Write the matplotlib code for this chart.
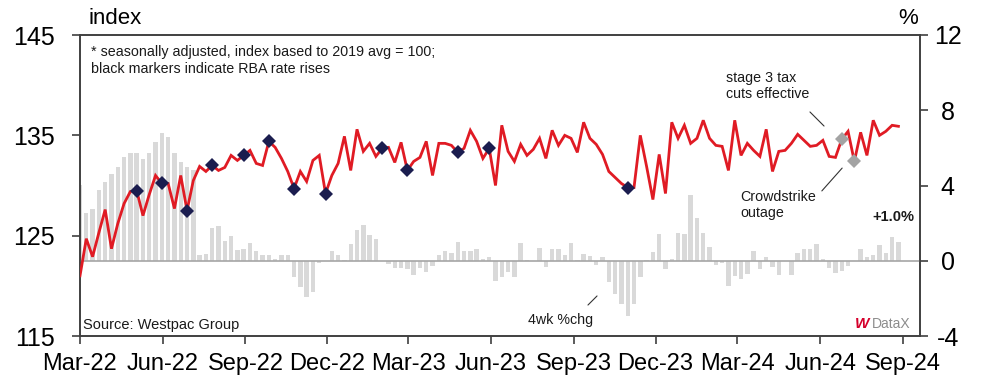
import numpy as np
import pandas as pd
import matplotlib
matplotlib.use('Agg')
import matplotlib.pyplot as plt

plt.rcParams['font.family'] = ['Liberation Sans', 'DejaVu Sans']

# ---------------- data ----------------
start_date = '2022-03-01'

index_values = [
    121.0, 124.7, 122.9, 125.3, 127.6, 123.7, 126.2, 128.2, 129.4, 129.5,
    127.0, 129.1, 131.0, 130.2, 130.2, 127.7, 131.0, 127.5, 130.5, 131.9,
    131.4, 132.0, 131.5, 131.8, 133.0, 132.5, 133.0, 133.5, 132.2, 132.0,
    134.4, 133.8, 132.7, 131.4, 129.7, 131.4, 130.4, 132.5, 133.0, 129.2,
    131.0, 132.2, 134.9, 131.5, 135.6, 133.4, 134.2, 132.9, 133.7, 133.8,
    132.3, 134.3, 131.5, 132.4, 132.8, 134.4, 131.0, 134.2, 134.2, 134.0,
    133.3, 133.7, 135.5, 134.4, 132.7, 133.7, 130.0, 136.0, 133.4, 132.4,
    134.1, 133.0, 133.6, 134.7, 132.7, 135.5, 134.0, 135.0, 134.7, 133.3,
    136.3, 134.7, 134.1, 133.1, 131.4, 130.8, 130.2, 129.8, 129.8, 135.0,
    131.9, 128.6, 133.1, 129.2, 136.3, 134.7, 136.0, 134.2, 134.7, 136.5,
    134.7, 134.0, 133.9, 131.5, 136.5, 133.0, 134.2, 133.5, 132.9, 135.6,
    131.4, 133.4, 133.5, 134.2, 135.1, 134.5, 133.9, 134.0, 134.5, 132.9,
    132.8, 134.6, 135.4, 132.4, 135.3, 133.0, 136.5, 135.0, 135.4, 136.0,
    135.9,
]

pct_chg_4wk = [
    4.02, 2.54, 2.77, 3.74, 4.18, 4.6, 4.98, 5.5, 5.73, 5.73,
    5.4, 5.73, 6.29, 6.78, 6.58, 5.73, 5.24, 5.0, 4.8,
    0.29, 0.35, 1.75, 1.86, 1.06, 1.3, 0.55, 0.65, 0.97, 0.51,
    0.32, 0.32, 0.07, 0.32, 0.31, -0.86, -1.41, -1.94, -1.66,
    -0.14, -0.02, 0.5, 0.28, 0.03, 0.89, 1.65, 1.88, 1.35, 1.14,
    0.0, -0.15, -0.4, -0.38, -0.42, -0.76, -0.37, -0.58,
    -0.3, 0.28, 0.5, 0.42, 0.98, 0.52, 0.5, 0.61, 0.07, 0.18,
    -1.08, -0.87, -0.6, -0.88, 0.92, 0.06, 0.0, 0.66, -0.35, 0.65,
    0.65, 0.29, 0.96, 0.05, 0.38, 0.26, -0.2, 0.18, -1.12, -1.75,
    -2.28, -2.92, -2.28, -0.86, 0.06, 0.47, 1.4, -0.46, 0.11, 1.5,
    1.4, 3.48, 2.29, 1.5, 0.71, -0.24, -0.1, -1.35, -0.82, -0.97,
    -0.73, 0.52, -0.43, 0.22, -0.33, -0.74, 0.0, -0.74, 0.43, 0.65,
    0.65, 0.91, 0.11, -0.38, -0.66, -0.52, -0.27, 0.0, 0.65, 0.2,
    0.29, 0.82, 0.42, 1.27, 1.0,
]

rba_rise_weeks = [9, 13, 17, 21, 26, 30, 34, 39, 48, 52, 60, 65, 87]
event_weeks = [121, 123]   # stage 3 tax cuts, Crowdstrike outage

tick_labels = ['Mar-22', 'Jun-22', 'Sep-22', 'Dec-22', 'Mar-23', 'Jun-23',
               'Sep-23', 'Dec-23', 'Mar-24', 'Jun-24', 'Sep-24']
left_ticks = [115, 125, 135, 145]
right_ticks = [-4, 0, 4, 8, 12]

# ---------------- derived ----------------
dates = pd.date_range(start_date, periods=len(index_values), freq='7D')
vals = np.array(index_values)
pcts = np.array(pct_chg_4wk)
tick_dates = pd.to_datetime(tick_labels, format='%b-%y')

RED = '#e01b24'
NAVY = '#1b1d4f'
SPINE = '#404040'

fig = plt.figure(figsize=(9.82, 3.77), dpi=100)
W, H = 982, 377
axb = fig.add_axes([80 / W, 1 - 336 / H, 840 / W, 301 / H])
axl = axb.twinx()
axb.yaxis.tick_right()
axl.yaxis.tick_left()

# bars (right scale)
axb.bar(dates, pcts, width=4.9, color='#d9d9d9', zorder=2)
axb.axhline(0, color='#a6a6a6', lw=1.2, zorder=3)
axb.set_ylim(right_ticks[0], right_ticks[-1])
axb.set_yticks(right_ticks)
axb.set_yticklabels([str(t) for t in right_ticks])

# line (left scale)
axl.plot(dates, vals, color=RED, lw=2.0, zorder=4, solid_joinstyle='miter')
axl.plot(dates[rba_rise_weeks], vals[rba_rise_weeks], 'D', color=NAVY,
         ms=7, zorder=5, markeredgewidth=0)
axl.plot(dates[event_weeks], vals[event_weeks], 'D', color='#a3a3a3',
         ms=7, zorder=5, markeredgewidth=0)
axl.set_ylim(left_ticks[0], left_ticks[-1])
axl.set_yticks(left_ticks)
axl.set_yticklabels([str(t) for t in left_ticks])

xmin = pd.Timestamp(start_date)
axb.set_xlim(xmin, xmin + pd.Timedelta(days=934))
axb.set_xticks(tick_dates)
axb.set_xticklabels(tick_labels)

for ax in (axb, axl):
    for sp in ax.spines.values():
        sp.set_color(SPINE)
        sp.set_linewidth(1.2)
axb.tick_params(axis='x', direction='out', length=6, width=1.2, color=SPINE,
                labelsize=17, pad=6, labelcolor='black')
axb.tick_params(axis='y', direction='out', length=6, width=1.2, color=SPINE,
                labelsize=18, pad=14, labelcolor='black')
for lab in axb.get_yticklabels():
    lab.set_horizontalalignment('center')
axl.tick_params(axis='y', direction='out', length=6, width=1.2, color=SPINE,
                labelsize=18, pad=12, labelcolor='black')

# ---------------- text ----------------
def fx(px):
    return (px - 80) / 840.0

def fy(py):
    return (336 - py) / 301.0

fig.text(88 / W, 1 - 19 / H, 'index', fontsize=16, va='center', ha='left')
fig.text(918 / W, 1 - 19 / H, '%', fontsize=16, va='center', ha='right')

axl.text(fx(91), fy(60.5),
         '* seasonally adjusted, index based to 2019 avg = 100;\n'
         'black markers indicate RBA rate rises',
         transform=axl.transAxes, fontsize=10.3, va='center', ha='left',
         linespacing=1.25, color='#1a1a1a')
axl.text(fx(83), fy(325), 'Source: Westpac Group', transform=axl.transAxes,
         fontsize=10.5, va='center', ha='left', color='#1a1a1a')

axl.text(fx(726), fy(86), 'stage 3 tax\ncuts effective', transform=axl.transAxes,
         fontsize=10.3, va='center', ha='left', linespacing=1.25, color='#1a1a1a')
axl.annotate('', xy=(fx(826), fy(128)), xytext=(fx(808), fy(110)),
             xycoords='axes fraction', textcoords='axes fraction',
             arrowprops=dict(arrowstyle='-', color='#333333', lw=0.8))

axl.text(fx(740), fy(205), 'Crowdstrike\noutage', transform=axl.transAxes,
         fontsize=10.3, va='center', ha='left', linespacing=1.25, color='#1a1a1a')
axl.annotate('', xy=(fx(844), fy(166)), xytext=(fx(820), fy(193)),
             xycoords='axes fraction', textcoords='axes fraction',
             arrowprops=dict(arrowstyle='-', color='#333333', lw=0.8))

axl.text(fx(561), fy(320), '4wk %chg', transform=axl.transAxes,
         fontsize=10.3, va='center', ha='center', color='#1a1a1a')
axl.annotate('', xy=(fx(599), fy(294)), xytext=(fx(586), fy(307)),
             xycoords='axes fraction', textcoords='axes fraction',
             arrowprops=dict(arrowstyle='-', color='#333333', lw=0.8))

axl.text(fx(914), fy(217), '+{:.1f}%'.format(pct_chg_4wk[-1]),
         transform=axl.transAxes, fontsize=10.5, fontweight='bold',
         va='center', ha='right', color='#1a1a1a')

# DataX logo
axl.text(fx(869), fy(324), 'W', transform=axl.transAxes, fontsize=11,
         fontweight='bold', fontstyle='italic', color='#d5002b',
         va='center', ha='right')
axl.text(fx(872), fy(324), 'DataX', transform=axl.transAxes, fontsize=10,
         va='center', ha='left', color='#8c8c8c')

fig.savefig('out.png', dpi=100)
